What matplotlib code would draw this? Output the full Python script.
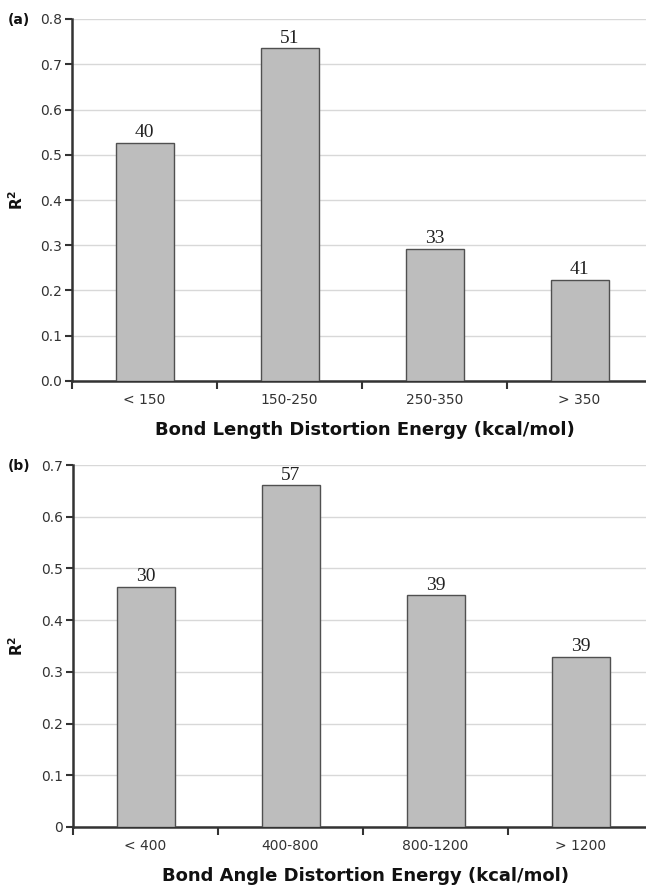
import matplotlib

matplotlib.use("Agg")
import matplotlib.pyplot as plt
import numpy as np

# R^2 per distortion-energy bin, with the number of complexes in each bin
length_bins = ["< 150", "150-250", "250-350", "> 350"]
length_r2 = [0.527, 0.736, 0.292, 0.224]
length_n = [40, 51, 33, 41]

angle_bins = ["< 400", "400-800", "800-1200", "> 1200"]
angle_r2 = [0.465, 0.661, 0.448, 0.329]
angle_n = [30, 57, 39, 39]

W, H = 646, 886
fig = plt.figure(figsize=(W / 100, H / 100), dpi=100)

SANS = "DejaVu Sans"
SERIF = "Liberation Serif"


def panel(rect_px, cats, vals, counts, ymax, yticklabels, xlabel, tag):
    left, top, bottom = rect_px
    ax = fig.add_axes([left / W, 1 - bottom / H, 580 / W, (bottom - top) / H])
    x = np.arange(len(cats))
    ax.bar(x, vals, width=0.4, color="#bdbdbd", edgecolor="#505050",
           linewidth=1.0, zorder=3)
    for xi, v, n in zip(x, vals, counts):
        ax.annotate(str(n), (xi, v), xytext=(0, 1), textcoords="offset points",
                    ha="center", va="bottom", fontsize=14, family=SERIF,
                    color="#222222")

    ax.set_xlim(-0.5, len(cats) - 0.5)
    ax.set_ylim(0, ymax)
    yt = np.round(np.arange(0, ymax + 1e-9, 0.1), 1)
    ax.set_yticks(yt)
    ax.set_yticklabels(yticklabels, fontsize=10, family=SANS, color="#333333")
    ax.yaxis.grid(True, color="#d8d8d8", linewidth=1.0, zorder=0)
    ax.set_axisbelow(True)

    # category labels sit between boundary ticks
    ax.set_xticks(np.arange(-0.5, len(cats), 1.0))
    ax.set_xticklabels([])
    ax.set_xticks(x, minor=True)
    ax.set_xticklabels(cats, minor=True, fontsize=10, family=SANS,
                       color="#333333")
    ax.tick_params(axis="x", which="minor", length=0, pad=9)
    ax.tick_params(axis="x", which="major", length=6, width=1.5,
                   color="#333333")
    ax.tick_params(axis="y", length=5, width=1.5, color="#333333", pad=2)

    for s in ("top", "right"):
        ax.spines[s].set_visible(False)
    for s in ("left", "bottom"):
        ax.spines[s].set_color("#333333")
        ax.spines[s].set_linewidth(1.8)

    fig.text(365 / W, 1 - (bottom + 49) / H, xlabel,
             ha="center", va="center", fontsize=13, fontweight="bold",
             family=SANS, color="#111111")
    fig.text(17 / W, 1 - 0.5 * (top + bottom) / H, "R$^\\mathbf{2}$",
             rotation=90, ha="center", va="center", fontsize=11,
             fontweight="bold", family=SANS, color="#111111")
    fig.text(8 / W, 1 - (top + 1) / H, tag, ha="left", va="center",
             fontsize=10, fontweight="bold", family=SANS, color="#111111")
    return ax


panel((72, 19, 381), length_bins, length_r2, length_n, 0.8,
      [f"{v:.1f}" for v in np.arange(0, 0.81, 0.1)],
      "Bond Length Distortion Energy (kcal/mol)", "(a)")
panel((73, 465, 827), angle_bins, angle_r2, angle_n, 0.7,
      ["0"] + [f"{v:.1f}" for v in np.arange(0.1, 0.71, 0.1)],
      "Bond Angle Distortion Energy (kcal/mol)", "(b)")

fig.savefig("out.png", dpi=100)
